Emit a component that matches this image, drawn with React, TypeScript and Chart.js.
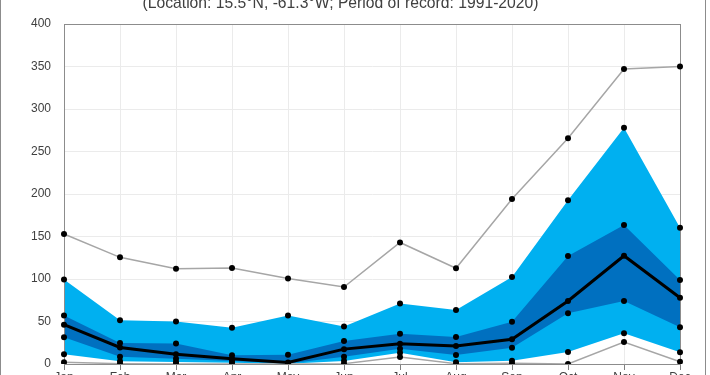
import React, { useEffect, useRef } from 'react';
import { Chart, registerables } from 'chart.js';

Chart.register(...registerables);

const months = ['Jan', 'Feb', 'Mar', 'Apr', 'May', 'Jun', 'Jul', 'Aug', 'Sep', 'Oct', 'Nov', 'Dec'];
const maxVals = [153, 125.5, 112, 113, 100.5, 90.6, 143, 112.6, 194, 265.5, 347, 350];
const p90Vals = [99.5, 51.5, 50, 42.7, 57, 44, 71.2, 63.5, 102.4, 192.6, 278, 160.4];
const p75Vals = [57, 24.8, 24, 10.3, 11, 27, 35.7, 31.8, 49.8, 127, 163.5, 98.8];
const medianVals = [46.3, 19.5, 11.4, 6.3, 1.8, 17.5, 23.9, 21.2, 29, 74.1, 127.4, 78];
const p25Vals = [31.5, 8.6, 6.3, 3.5, 0.6, 8.6, 18, 10.6, 19.2, 59.6, 74.1, 43.2];
const p10Vals = [11.5, 3.1, 2.4, 1.6, 0.2, 3.5, 13.2, 2, 3.9, 14.1, 36.1, 13.8];
const minVals = [2, 0.4, 0, 0, 0, 0.4, 8.2, 0.4, 0.8, 0, 25.9, 2.7];
const titleText = '(Location: 15.5°N, -61.3°W; Period of record: 1991-2020)';

const FONT = "'Liberation Sans', Arial, sans-serif";

const framePlugin = {
  id: 'plotFrame',
  beforeDatasetsDraw(chart: any) {
    const { ctx, chartArea } = chart;
    ctx.save();
    ctx.strokeStyle = '#8c8c8c';
    ctx.lineWidth = 1;
    ctx.strokeRect(
      Math.round(chartArea.left) + 0.5,
      Math.round(chartArea.top) + 0.5,
      Math.round(chartArea.right - chartArea.left),
      Math.round(chartArea.bottom - chartArea.top)
    );
    ctx.restore();
  },
};

export default function App() {
  const ref = useRef<HTMLCanvasElement | null>(null);
  useEffect(() => {
    if (!ref.current) return;
    const pt = {
      pointRadius: 3,
      pointHoverRadius: 3,
      pointBackgroundColor: '#000',
      pointBorderColor: '#000',
      pointBorderWidth: 0,
      tension: 0,
    };
    const chart = new Chart(ref.current, {
      type: 'line',
      data: {
        labels: months,
        datasets: [
          { label: 'Median', data: medianVals, borderColor: '#000', borderWidth: 3, fill: false, ...pt },
          { label: 'Maximum', data: maxVals, borderColor: '#a6a6a6', borderWidth: 1.5, fill: false, ...pt },
          { label: 'Minimum', data: minVals, borderColor: '#a6a6a6', borderWidth: 1.5, fill: false, ...pt },
          { label: '75th percentile', data: p75Vals, borderColor: 'rgba(0,0,0,0)', borderWidth: 0, backgroundColor: '#0070c0', fill: '+1', ...pt },
          { label: '25th percentile', data: p25Vals, borderColor: 'rgba(0,0,0,0)', borderWidth: 0, fill: false, ...pt },
          { label: '90th percentile', data: p90Vals, borderColor: 'rgba(0,0,0,0)', borderWidth: 0, backgroundColor: '#00b0f0', fill: '+1', ...pt },
          { label: '10th percentile', data: p10Vals, borderColor: 'rgba(0,0,0,0)', borderWidth: 0, fill: false, ...pt },
        ],
      },
      options: {
        animation: false,
        responsive: false,
        devicePixelRatio: 1,
        layout: { padding: { left: 0, right: 25, top: 0, bottom: 37.6 } },
        plugins: {
          legend: { display: false },
          tooltip: { enabled: false },
          filler: { drawTime: 'beforeDatasetsDraw' },
          title: {
            display: true,
            text: titleText,
            color: '#404040',
            font: { family: FONT, size: 15.7, weight: 'normal', lineHeight: 1.2 },
            padding: { top: 0, bottom: 11.16 },
          },
        },
        scales: {
          x: {
            offset: false,
            grid: { color: '#ebebeb', tickColor: '#808080', tickLength: 6, drawTicks: true },
            border: { color: '#8c8c8c', width: 1 },
            ticks: { color: '#404040', font: { family: FONT, size: 12 }, padding: 0, maxRotation: 0, autoSkip: false },
          },
          y: {
            min: 0,
            max: 400,
            afterFit: (scale: any) => { scale.width = 63; },
            grid: { color: '#ebebeb', drawTicks: false },
            border: { color: '#8c8c8c', width: 1 },
            ticks: { stepSize: 50, color: '#404040', font: { family: FONT, size: 12 }, padding: 13 },
          },
        },
      },
      plugins: [framePlugin],
    } as any);
    return () => chart.destroy();
  }, []);

  return (
    <div
      style={{
        position: 'fixed',
        left: 0,
        top: -7,
        width: 706,
        height: 430,
        boxSizing: 'border-box',
        border: '1px solid #8c8c8c',
        background: '#fff',
      }}
    >
      <canvas ref={ref} width={704} height={428} style={{ display: 'block', width: 704, height: 428 }} />
    </div>
  );
}
